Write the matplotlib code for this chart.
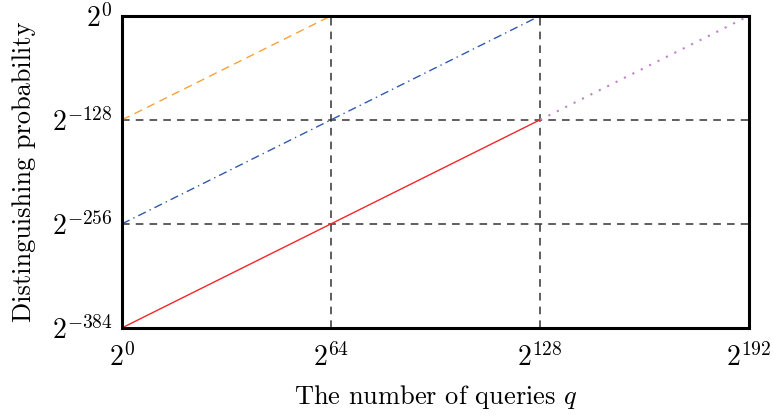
import numpy as np
import matplotlib.pyplot as plt

plt.rcParams['font.family'] = 'serif'
plt.rcParams['font.serif'] = ['cmr10']
plt.rcParams['mathtext.fontset'] = 'cm'
plt.rcParams['axes.unicode_minus'] = False

# exponents (log2) of the line endpoints
orange_q = [0, 64]
orange_p = [-128, 0]
blue_q = [0, 128]
blue_p = [-256, 0]
red_q = [0, 128]
red_p = [-384, -128]
purple_q = [128, 192]
purple_p = [-128, 0]

xtick_exp = [0, 64, 128, 192]
ytick_exp = [-384, -256, -128, 0]
hgrid_exp = [-128, -256]
vgrid_exp = [64, 128]

fig = plt.figure(figsize=(7.73, 4.16), dpi=100)
ax = fig.add_axes([0.158, 0.212, 0.811, 0.750])

ax.set_xscale('log', base=2)
ax.set_yscale('log', base=2)

p2 = lambda e: 2.0 ** np.array(e, dtype=float)

# grid lines
for e in hgrid_exp:
    ax.axhline(p2(e), color='#333333', ls=(0, (5, 4)), lw=1.1, zorder=1)
for e in vgrid_exp:
    ax.axvline(p2(e), color='#333333', ls=(0, (5, 4)), lw=1.1, zorder=1)

ax.plot(p2(orange_q), p2(orange_p), color='#f7a13d', ls=(0, (6, 4)), lw=1.0, zorder=2)
ax.plot(p2(blue_q), p2(blue_p), color='#2f5aaa', ls=(0, (6, 3, 1, 3)), lw=1.0, zorder=2)
ax.plot(p2(red_q), p2(red_p), color='#f0282a', ls='-', lw=1.0, zorder=2)
ax.plot(p2(purple_q), p2(purple_p), color='#c080c8', ls=(0, (1, 3.5)), lw=1.5, zorder=2)

ax.set_xlim(p2(0), p2(192))
ax.set_ylim(p2(-384), p2(0))

ax.set_xticks(p2(xtick_exp))
ax.set_xticklabels([r'$2^{%d}$' % e for e in xtick_exp])
ax.set_yticks(p2(ytick_exp))
ax.set_yticklabels([r'$2^{%d}$' % e for e in ytick_exp])
ax.minorticks_off()
ax.tick_params(length=0, labelsize=20)
ax.tick_params(axis='x', pad=11)
ax.tick_params(axis='y', pad=7)

for s in ax.spines.values():
    s.set_linewidth(2.2)

ax.set_xlabel(r'The number of queries $q$', fontsize=19, va='center')
ax.xaxis.set_label_coords(0.5, -0.222)
ax.set_ylabel('Distinguishing probability', fontsize=19, va='center')
ax.yaxis.set_label_coords(-0.156, 0.5)

fig.savefig('out.png', dpi=100)
